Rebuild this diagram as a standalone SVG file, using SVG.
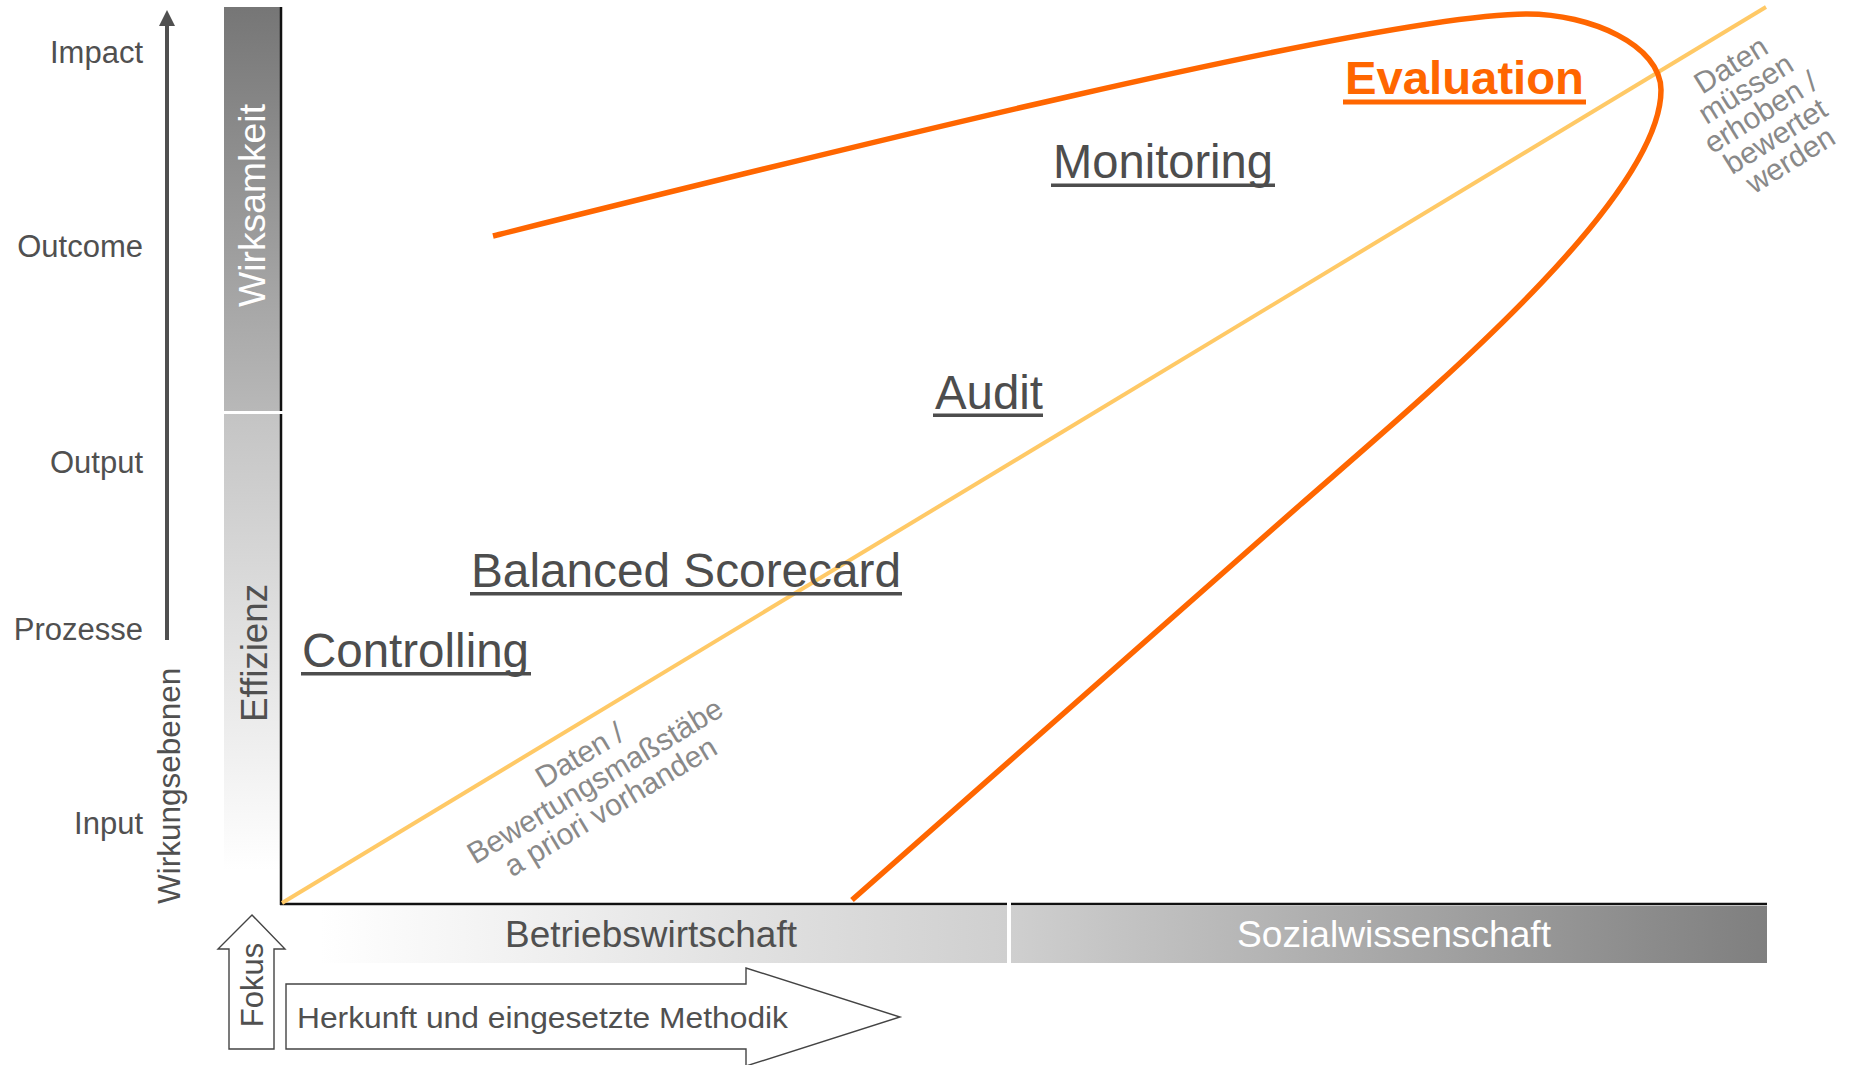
<svg xmlns="http://www.w3.org/2000/svg" width="1851" height="1065" viewBox="0 0 1851 1065">
  <defs>
    <linearGradient id="gWirk" x1="0" y1="0" x2="0" y2="1">
      <stop offset="0" stop-color="#767676"/>
      <stop offset="1" stop-color="#b8b8b8"/>
    </linearGradient>
    <linearGradient id="gEff" gradientUnits="userSpaceOnUse" x1="0" y1="414" x2="0" y2="870">
      <stop offset="0" stop-color="#c4c4c4"/>
      <stop offset="1" stop-color="#ffffff"/>
    </linearGradient>
    <linearGradient id="gBetr" gradientUnits="userSpaceOnUse" x1="320" y1="0" x2="1007" y2="0">
      <stop offset="0" stop-color="#ffffff"/>
      <stop offset="1" stop-color="#cfcfcf"/>
    </linearGradient>
    <linearGradient id="gSoz" gradientUnits="userSpaceOnUse" x1="1011" y1="0" x2="1767" y2="0">
      <stop offset="0" stop-color="#cfcfcf"/>
      <stop offset="1" stop-color="#7f7f7f"/>
    </linearGradient>
    <marker id="ah" viewBox="0 0 16 16" refX="0" refY="8" markerWidth="16" markerHeight="16" markerUnits="userSpaceOnUse" orient="auto">
      <path d="M0,0 L16,8 L0,16 z" fill="#505050"/>
    </marker>
  </defs>
  <style>
    text { font-family: "Liberation Sans", Arial, sans-serif; }
    .lvl { font-size: 31px; fill: #505050; text-anchor: end; }
    .method { font-size: 48px; fill: #4d4d4d; }
    .uline { fill: #4d4d4d; }
    .note { font-size: 30px; fill: #898989; text-anchor: middle; }
    .band { font-size: 36px; }
    .axis { stroke: #111; stroke-width: 2.5; fill: none; }
    .shape { fill: #ffffff; stroke: #444; stroke-width: 1.4; }
  </style>

  <rect width="1851" height="1065" fill="#ffffff"/>

  <!-- levels of effect (left scale) -->
  <g id="levels">
    <line x1="167" y1="640" x2="167" y2="26" stroke="#505050" stroke-width="4" marker-end="url(#ah)"/>
    <text class="lvl" x="143" y="63">Impact</text>
    <text class="lvl" x="143" y="257">Outcome</text>
    <text class="lvl" x="143" y="473">Output</text>
    <text class="lvl" x="143" y="640">Prozesse</text>
    <text class="lvl" x="143" y="834">Input</text>
    <text transform="translate(180,904) rotate(-90)" font-size="31.5" fill="#505050">Wirkungsebenen</text>
  </g>

  <!-- vertical bars: Wirksamkeit / Effizienz -->
  <g id="bar-wirksamkeit">
    <rect x="224" y="7" width="57" height="404" fill="url(#gWirk)"/>
    <text transform="translate(265,307) rotate(-90)" font-size="37" fill="#ffffff" textLength="203" lengthAdjust="spacingAndGlyphs">Wirksamkeit</text>
  </g>
  <g id="bar-effizienz">
    <rect x="224" y="414" width="57" height="490" fill="url(#gEff)"/>
    <text transform="translate(267,722) rotate(-90)" font-size="37" fill="#505050" textLength="138" lengthAdjust="spacingAndGlyphs">Effizienz</text>
  </g>

  <!-- horizontal bands -->
  <g id="band-betriebswirtschaft">
    <rect x="281" y="906" width="726" height="57" fill="url(#gBetr)"/>
    <text class="band" x="505" y="947" fill="#505050" textLength="292" lengthAdjust="spacingAndGlyphs">Betriebswirtschaft</text>
  </g>
  <g id="band-sozialwissenschaft">
    <rect x="1011" y="906" width="756" height="57" fill="url(#gSoz)"/>
    <text class="band" x="1237" y="947" fill="#ffffff" textLength="314" lengthAdjust="spacingAndGlyphs">Sozialwissenschaft</text>
  </g>

  <!-- chart axes -->
  <g id="axes">
    <line class="axis" x1="281" y1="7" x2="281" y2="411"/>
    <line class="axis" x1="281" y1="414" x2="281" y2="905"/>
    <line class="axis" x1="280" y1="904" x2="1007" y2="904"/>
    <line class="axis" x1="1011" y1="904" x2="1767" y2="904"/>
  </g>

  <!-- connectors: boundary line and evaluation curve -->
  <g id="connectors">
    <line x1="282" y1="903" x2="1766" y2="7" stroke="#ffc966" stroke-width="4"/>
    <path d="M493,236 C793,161 1380,14 1527,14 C1590,14 1661,45 1661,90 C1661,200 1420,400 1300,505 L852,900" fill="none" stroke="#ff6600" stroke-width="5.5" stroke-linecap="butt"/>
  </g>

  <!-- method labels -->
  <g id="controlling">
    <text class="method" x="302" y="667" textLength="227" lengthAdjust="spacingAndGlyphs">Controlling</text>
    <rect class="uline" x="301" y="672" width="230" height="3.5"/>
  </g>
  <g id="balanced-scorecard">
    <text class="method" x="471" y="587" textLength="430" lengthAdjust="spacingAndGlyphs">Balanced Scorecard</text>
    <rect class="uline" x="470" y="592" width="432" height="3.5"/>
  </g>
  <g id="audit">
    <text class="method" x="935" y="409" font-size="46" textLength="108" lengthAdjust="spacingAndGlyphs">Audit</text>
    <rect class="uline" x="933" y="413.5" width="110" height="3.5"/>
  </g>
  <g id="monitoring">
    <text class="method" x="1053" y="178" font-size="47" textLength="220" lengthAdjust="spacingAndGlyphs">Monitoring</text>
    <rect class="uline" x="1051" y="183.5" width="224" height="3.5"/>
  </g>
  <g id="evaluation">
    <text x="1345" y="94" font-size="47" font-weight="bold" fill="#ff6600" textLength="239" lengthAdjust="spacingAndGlyphs">Evaluation</text>
    <rect x="1343" y="99.5" width="243" height="5" fill="#ff6600"/>
  </g>

  <!-- notes along the boundary line -->
  <g id="note-a-priori" transform="translate(595,781) rotate(-31)">
    <text class="note" x="0" y="-20" font-size="31.5">Daten /</text>
    <text class="note" x="0" y="10" font-size="31.5">Bewertungsmaßstäbe</text>
    <text class="note" x="0" y="40" font-size="31.5">a priori vorhanden</text>
  </g>
  <g id="note-erhoben" transform="translate(1731,65) rotate(-32)">
    <text class="note" x="0" y="10">Daten</text>
    <text class="note" x="0" y="38">müssen</text>
    <text class="note" x="0" y="66">erhoben /</text>
    <text class="note" x="0" y="94">bewertet</text>
    <text class="note" x="0" y="122">werden</text>
  </g>

  <!-- block arrows -->
  <g id="fokus">
    <polygon class="shape" points="229,1049 229,949 218,949 252,915 285,949 274,949 274,1049"/>
    <text transform="translate(263,985) rotate(-90)" font-size="31" fill="#505050" text-anchor="middle">Fokus</text>
  </g>
  <g id="herkunft">
    <polygon class="shape" points="286,984 746,984 746,968 900,1017 746,1066 746,1049 286,1049"/>
    <text x="297" y="1028" font-size="30" fill="#505050" textLength="491" lengthAdjust="spacingAndGlyphs">Herkunft und eingesetzte Methodik</text>
  </g>
</svg>
